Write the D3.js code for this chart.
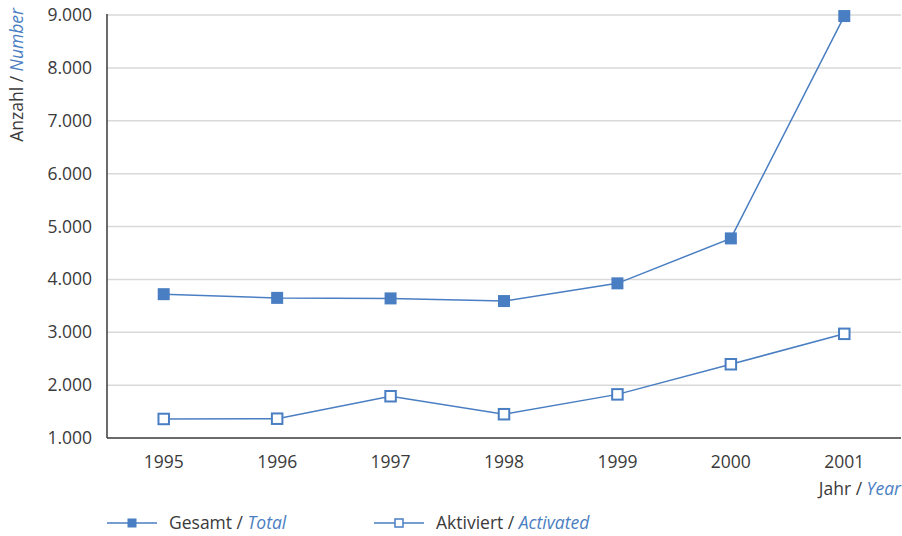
<!DOCTYPE html>
<html>
<head>
<meta charset="utf-8">
<script src="https://cdn.jsdelivr.net/npm/d3@7"></script>
<style>
  html, body { margin: 0; padding: 0; background: #fff; }
  svg { display: block; font-family: "Open Sans", "Noto Sans", sans-serif; }
</style>
</head>
<body>
<svg id="chart" width="902" height="536"></svg>
<script>
// Patent counts per year
const years = ["1995", "1996", "1997", "1998", "1999", "2000", "2001"];
const totalValues = [3720, 3650, 3640, 3590, 3925, 4775, 8980];
const activatedValues = [1360, 1365, 1790, 1450, 1825, 2395, 2970];
const yTicks = [1000, 2000, 3000, 4000, 5000, 6000, 7000, 8000, 9000];

const blue = "#4a7ec2";
const textColor = "#3a3a3a";
const fontSize = "17.5px";
const svg = d3.select("#chart");

const margin = { left: 107, right: 1, top: 15, bottom: 98 };
const W = 902, H = 536;

const x = d3.scaleBand().domain(years)
  .range([margin.left, W - margin.right]);
const y = d3.scaleLinear().domain([1000, 9000])
  .range([H - margin.bottom, margin.top]);

const fmt = v => d3.format(",")(v).replace(/,/g, ".");

// gridlines
svg.append("g").selectAll("line").data(yTicks.slice(1)).join("line")
  .attr("x1", margin.left).attr("x2", W - margin.right)
  .attr("y1", d => y(d)).attr("y2", d => y(d))
  .attr("stroke", "#d9d9d9").attr("stroke-width", 1.5);

// y axis labels
const yAxis = svg.append("g")
  .attr("transform", `translate(${margin.left},0)`)
  .call(d3.axisLeft(y).tickValues(yTicks).tickFormat(fmt).tickSize(0).tickPadding(15));
yAxis.select(".domain").remove();
yAxis.selectAll("text")
  .attr("fill", textColor).style("font-size", fontSize)
  .style("font-family", "'Open Sans', sans-serif");

// x axis labels
const xAxis = svg.append("g")
  .attr("transform", `translate(0,${y(1000)})`)
  .call(d3.axisBottom(x).tickSize(0).tickPadding(18));
xAxis.select(".domain").remove();
xAxis.selectAll("text")
  .attr("fill", textColor).style("font-size", fontSize)
  .style("font-family", "'Open Sans', sans-serif");

// axis lines
svg.append("line")
  .attr("x1", margin.left).attr("x2", margin.left)
  .attr("y1", y(9000) - 1).attr("y2", y(1000))
  .attr("stroke", "#3a3a3a").attr("stroke-width", 1.5);
svg.append("line")
  .attr("x1", margin.left).attr("x2", W - margin.right)
  .attr("y1", y(1000)).attr("y2", y(1000))
  .attr("stroke", "#3a3a3a").attr("stroke-width", 1.5);

// axis titles
const yTitle = svg.append("text")
  .attr("transform", `translate(23,8) rotate(-90)`)
  .attr("text-anchor", "end")
  .style("font-size", fontSize).attr("fill", textColor);
yTitle.append("tspan").text("Anzahl / ");
yTitle.append("tspan").attr("fill", blue).style("font-style", "italic").text("Number");

const xTitle = svg.append("text")
  .attr("x", W - 1).attr("y", 495)
  .attr("text-anchor", "end")
  .style("font-size", fontSize).attr("fill", textColor);
xTitle.append("tspan").text("Jahr / ");
xTitle.append("tspan").attr("fill", blue).style("font-style", "italic").text("Year");

// series
const cx = d => x(d) + x.bandwidth() / 2;
const line = d3.line().x(d => cx(d.year)).y(d => y(d.value));
const series = [
  { values: totalValues, filled: true },
  { values: activatedValues, filled: false }
];

series.forEach(s => {
  const pts = years.map((yr, i) => ({ year: yr, value: s.values[i] }));
  svg.append("path").datum(pts)
    .attr("d", line).attr("fill", "none")
    .attr("stroke", blue).attr("stroke-width", 1.5);
  const size = s.filled ? 12 : 10.5;
  svg.append("g").selectAll("rect").data(pts).join("rect")
    .attr("x", d => cx(d.year) - size / 2)
    .attr("y", d => y(d.value) - size / 2)
    .attr("width", size).attr("height", size)
    .attr("fill", s.filled ? blue : "#fff")
    .attr("stroke", s.filled ? "none" : blue)
    .attr("stroke-width", 2);
});

// legend
const legendItems = [
  { x: 107, filled: true, de: "Gesamt / ", en: "Total" },
  { x: 374, filled: false, de: "Aktiviert / ", en: "Activated" }
];
const ly = 523;
legendItems.forEach(it => {
  const g = svg.append("g");
  g.append("line")
    .attr("x1", it.x).attr("x2", it.x + 50)
    .attr("y1", ly).attr("y2", ly)
    .attr("stroke", blue).attr("stroke-width", 1.5);
  const s = it.filled ? 9 : 8;
  g.append("rect")
    .attr("x", it.x + 25 - s / 2).attr("y", ly - s / 2)
    .attr("width", s).attr("height", s)
    .attr("fill", it.filled ? blue : "#fff")
    .attr("stroke", it.filled ? "none" : blue)
    .attr("stroke-width", 1.5);
  const t = g.append("text")
    .attr("x", it.x + 62).attr("y", ly + 6)
    .style("font-size", fontSize).attr("fill", textColor);
  t.append("tspan").text(it.de);
  t.append("tspan").attr("fill", blue).style("font-style", "italic").text(it.en);
});
</script>
</body>
</html>
